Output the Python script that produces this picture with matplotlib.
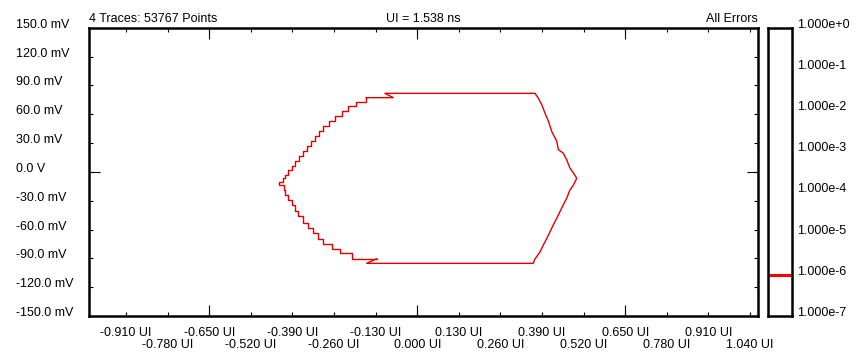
import matplotlib
matplotlib.use('Agg')
import matplotlib.pyplot as plt
import matplotlib.transforms as mtransforms
from matplotlib.ticker import NullLocator

plt.rcParams['font.family'] = ['Liberation Sans', 'DejaVu Sans']
plt.rcParams['axes.unicode_minus'] = False

#eye contour, left side is a staircase (drawn with steps)
stair_x = [-0.160, -0.192, -0.216, -0.236, -0.257, -0.275, -0.294, -0.306, -0.320,
           -0.333, -0.346, -0.358, -0.369, -0.382, -0.393, -0.403, -0.414, -0.419,
           -0.431,
           -0.417, -0.414, -0.403, -0.393, -0.382, -0.372, -0.356, -0.341, -0.325,
           -0.309, -0.294, -0.268, -0.242, -0.205, -0.127]
stair_y = [77.2, 72.4, 68.2, 63.3, 58.1, 52.9, 47.7, 42.5, 37.3,
           32.1, 26.9, 21.7, 16.5, 11.6, 6.1, 1.9, -2.8, -6.4,
           -10.6,
           -13.7, -18.6, -23.8, -29.0, -34.2, -40.7, -46.3, -53.2, -58.4,
           -63.6, -69.9, -74.8, -80.0, -84.4, -90.4]

#rest of contour: bottom notch, bottom line, right side, top line, top notch
outer_x = [-0.127, -0.158, 0.363, 0.366, 0.373, 0.384, 0.394, 0.405, 0.415, 0.425,
           0.441, 0.456, 0.467, 0.477, 0.488, 0.496, 0.498, 0.488, 0.477, 0.467,
           0.456, 0.441, 0.436, 0.420, 0.410, 0.399, 0.389, 0.378, 0.368, -0.101,
           -0.075, -0.160]
outer_y = [-90.4, -95.2, -95.2, -91.7, -88.3, -83.1, -76.1, -69.1, -62.3, -55.3,
           -44.9, -34.5, -27.5, -18.9, -13.7, -8.5, -6.4, -1.2, 4.0, 12.6,
           19.6, 23.0, 31.8, 42.2, 52.6, 61.2, 69.9, 76.8, 81.7, 81.7,
           77.2, 77.2]

xtick_vals = [-0.91, -0.78, -0.65, -0.52, -0.39, -0.26, -0.13, 0.0,
              0.13, 0.26, 0.39, 0.52, 0.65, 0.78, 0.91, 1.04]
xtick_labels = ['-0.910 UI', '-0.780 UI', '-0.650 UI', '-0.520 UI', '-0.390 UI',
                '-0.260 UI', '-0.130 UI', '0.000 UI', '0.130 UI', '0.260 UI',
                '0.390 UI', '0.520 UI', '0.650 UI', '0.780 UI', '0.910 UI', '1.040 UI']
ytick_vals = [150, 120, 90, 60, 30, 0, -30, -60, -90, -120, -150]
ytick_labels = ['150.0 mV', '120.0 mV', '90.0 mV', '60.0 mV', '30.0 mV', '0.0 V',
                '-30.0 mV', '-60.0 mV', '-90.0 mV', '-120.0 mV', '-150.0 mV']
ber_vals = [1e0, 1e-1, 1e-2, 1e-3, 1e-4, 1e-5, 1e-6, 1e-7]
ber_labels = ['1.000e+0', '1.000e-1', '1.000e-2', '1.000e-3',
              '1.000e-4', '1.000e-5', '1.000e-6', '1.000e-7']
ber_level = 1e-6

FS = 9
fig = plt.figure(figsize=(8.65, 3.52), dpi=100)
W, H = 865.0, 352.0

#main eye plot
ax = fig.add_axes([89.3/W, 36/H, 668.4/W, 288.3/H])
ax.plot(stair_x, stair_y, color='#e00000', lw=1.0, drawstyle='steps-pre')
ax.plot(outer_x, outer_y, color='#e00000', lw=1.0)
ax.set_xlim(-1.025, 1.064)
ax.set_ylim(-150, 150)

ax.set_xticks(xtick_vals)
ax.set_xticklabels(xtick_labels, fontsize=FS)
ax.set_yticks(ytick_vals)
ax.set_yticklabels(ytick_labels, fontsize=FS, ha='left', va='baseline')
#long ticks
ax.set_xticks([-0.65, 0.0, 0.65], minor=True)
ax.set_yticks([0], minor=True)
ax.xaxis.remove_overlapping_locs = False
ax.yaxis.remove_overlapping_locs = False
ax.tick_params(axis='x', which='major', direction='in', length=3, width=0.8,
               top=True, pad=8)
ax.tick_params(axis='y', which='major', direction='in', length=3, width=0.8,
               right=True, pad=53)
ax.tick_params(which='minor', direction='in', length=8, width=0.8,
               top=True, right=True, labelbottom=False, labelleft=False)
for s in ax.spines.values():
    s.set_linewidth(1.8)

#every second x label goes one row lower
down = mtransforms.ScaledTranslation(0, -0.12, fig.dpi_scale_trans)
for i, lab in enumerate(ax.get_xticklabels()):
    if i % 2 == 1:
        lab.set_transform(lab.get_transform() + down)

ax.text(0, 1.021, '4 Traces: 53767 Points', transform=ax.transAxes,
        ha='left', va='baseline', fontsize=FS)
ax.text(0.5, 1.021, 'UI = 1.538 ns', transform=ax.transAxes,
        ha='center', va='baseline', fontsize=FS)
ax.text(1, 1.021, 'All Errors', transform=ax.transAxes,
        ha='right', va='baseline', fontsize=FS)

#BER color scale
cax = fig.add_axes([768.3/W, 36/H, 23.4/W, 288.3/H])
cax.set_yscale('log')
cax.set_ylim(1e-7, 1e0)
cax.set_xlim(0, 1)
cax.axhline(ber_level, color='#ff0000', lw=2.2)
cax.set_xticks([])
cax.set_yticks(ber_vals)
cax.set_yticklabels(ber_labels, fontsize=FS, va='baseline')
cax.yaxis.set_minor_locator(NullLocator())
cax.tick_params(axis='y', left=False, right=True, labelleft=False,
                labelright=True, length=0, pad=3.6)
for s in cax.spines.values():
    s.set_linewidth(1.8)

fig.savefig('out.png', dpi=100)
